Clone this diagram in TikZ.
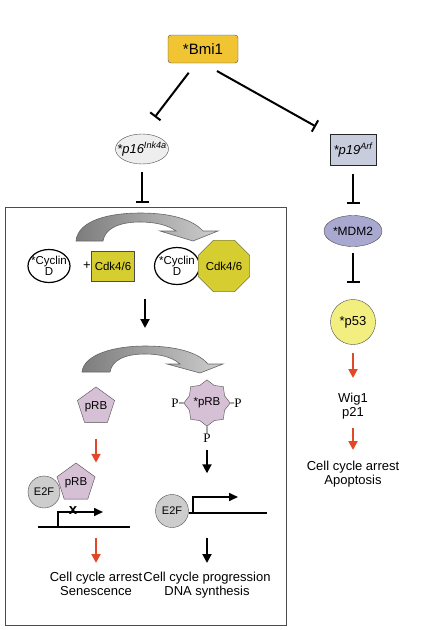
\documentclass[tikz,border=0pt]{standalone}
\usepackage{fontspec}
\setmainfont{Liberation Sans}
\newfontfamily\serifP{Liberation Serif}
\usepackage{tikz}
\usetikzlibrary{arrows.meta,shapes.geometric,calc}
\definecolor{bmiyellow}{RGB}{240,196,50}
\definecolor{p16gray}{RGB}{238,238,238}
\definecolor{p19blue}{RGB}{200,205,222}
\definecolor{mdmblue}{RGB}{168,168,208}
\definecolor{p53yellow}{RGB}{242,238,128}
\definecolor{cdkyellow}{RGB}{214,206,48}
\definecolor{rblilac}{RGB}{214,192,214}
\definecolor{e2fgray}{RGB}{205,205,205}
\definecolor{arrowred}{RGB}{226,72,40}
\definecolor{bendleft}{RGB}{125,125,125}
\definecolor{bendright}{RGB}{205,205,205}

\begin{document}
\begin{tikzpicture}[x=1pt,y=-1pt,
  mol/.style={draw=black!70,inner sep=0pt},
  oval/.style={mol,ellipse,inner sep=-6pt},
  inhibit/.style={line width=2pt,-{Bar[width=13pt]}},
  blackarr/.style={line width=2pt,-{Triangle[width=9pt,length=9pt]}},
  redarr/.style={blackarr,arrowred},
  gene/.style={line width=1.6pt},
  outcome/.style={anchor=north,align=center,inner sep=0pt,font=\fontsize{13}{13.5}\selectfont},
  bigbend/.style={draw=black!60,line width=0.6pt,left color=bendleft,right color=bendright}]
\useasboundingbox (0,0) rectangle (425,630);

\node[mol,rectangle,rounded corners=3pt,fill=bmiyellow,minimum width=70pt,minimum height=28pt,font=\fontsize{15}{15}\selectfont] (bmi) at (203,49) {*Bmi1};
\node[oval,fill=p16gray,minimum width=50pt,minimum height=30pt,font=\fontsize{13}{13}\selectfont\itshape] (p16) at (142,149) {*p16\textsuperscript{Ink4a}};
\node[mol,draw=black!85,fill=p19blue,minimum width=46pt,minimum height=31pt,font=\fontsize{13}{13}\selectfont\itshape] (p19) at (353,150) {*p19\textsuperscript{Arf}};
\node[oval,fill=mdmblue,minimum width=58pt,minimum height=31pt,font=\fontsize{12}{12}\selectfont] (mdm2) at (353,231) {*MDM2};
\node[mol,circle,fill=p53yellow,minimum size=45pt,font=\fontsize{13}{13}\selectfont] (p53) at (353,322) {*p53};
\node[outcome] (wig) at (353,393) {Wig1\\p21};
\node[outcome] (apop) at (353,461) {Cell cycle arrest\\Apoptosis};

\node[draw=gray!60!black,line width=0.8pt,minimum width=281pt,minimum height=418pt] (cellbox) at (145.5,416) {};

\shadedraw[bigbend] (76,241) .. controls (78,220) and (110,213) .. (140,213) .. controls (170,213) and (192,219) .. (203,231) -- (218,231) -- (193,241) -- (160,231) -- (176,231) .. controls (168,225) and (155,222) .. (140,222) .. controls (120,222) and (105,228) .. (103,241) -- cycle;
\node[oval,fill=white,draw=black,line width=1.2pt,minimum width=42pt,minimum height=33pt,align=center,font=\fontsize{11.5}{11.5}\selectfont] (cycA) at (49,266) {*Cyclin\\D};
\node[font=\fontsize{13}{13}\selectfont] (plus) [right of = cycA, node distance = 38pt] {+};
\node[mol,fill=cdkyellow,minimum width=43pt,minimum height=30pt,font=\fontsize{11.5}{11.5}\selectfont] (cdkA) [right of = plus, node distance = 26pt] {Cdk4/6};
\node[oval,fill=white,draw=black,line width=1.2pt,minimum width=45pt,minimum height=37pt,align=center,font=\fontsize{11.5}{11.5}\selectfont] (cycB) at (177,266) {*Cyclin\\D};
\node[mol,regular polygon,regular polygon sides=8,fill=cdkyellow,minimum size=47pt,font=\fontsize{11.5}{11.5}\selectfont] (cdkB) [right of = cycB, node distance = 47pt] {Cdk4/6};
\coordinate (rbsplit) at (145,328);

\shadedraw[bigbend] (82,372) .. controls (84,354) and (115,346) .. (145,346) .. controls (175,346) and (198,352) .. (208,364) -- (223,364) -- (200,373) -- (167,364) -- (180,364) .. controls (172,357) and (160,354) .. (145,354) .. controls (125,354) and (112,360) .. (110,372) -- cycle;
\node[mol,regular polygon,regular polygon sides=5,fill=rblilac,minimum size=39pt,font=\fontsize{11.5}{11.5}\selectfont] (rb1) at (96,406.5) {pRB};
\node[mol,star,star points=8,star point ratio=1.22,fill=rblilac,minimum size=43pt,font=\fontsize{11.5}{11.5}\selectfont] (rbP) at (207,403) {*pRB};
\node[inner sep=0pt,font=\serifP\fontsize{13}{13}\selectfont] (pL) [left of = rbP, node distance = 32pt] {P};
\node[inner sep=0pt,font=\serifP\fontsize{13}{13}\selectfont] (pR) [right of = rbP, node distance = 31pt] {P};
\node[inner sep=0pt,font=\serifP\fontsize{13}{13}\selectfont] (pB) [below of = rbP, node distance = 35pt] {P};
\draw[line width=0.8pt] (pL.east) -- (rbP.west) (pR.west) -- (rbP.east) (pB.north) -- (rbP.south);

\node[mol,circle,fill=e2fgray,minimum size=32pt,font=\fontsize{11}{11}\selectfont] (e2f1) at (44,492) {E2F};
\node[mol,regular polygon,regular polygon sides=5,fill=rblilac,minimum size=40pt,font=\fontsize{11.5}{11.5}\selectfont] (rb2) at (76,483) {pRB};
\coordinate (tss1) at (58,527);
\draw[gene] (38,527) -- (130,527);
\draw[gene,-{Triangle[width=8pt,length=9pt]}] (tss1) -- (58,512) -- (103,512);
\node[font=\fontsize{15}{15}\selectfont\bfseries] (block) at (73,511) {x};
\coordinate (prom1) at (96,527);

\node[mol,circle,fill=e2fgray,minimum size=33pt,font=\fontsize{11}{11}\selectfont] (e2f2) at (172,511) {E2F};
\coordinate (tss2) at (193,513);
\draw[gene] (e2f2.east |- tss2) -- (267,513);
\draw[gene,-{Triangle[width=8pt,length=9pt]}] (tss2) -- (193,497) -- (238,497);
\coordinate (prom2) at (207,513);

\node[outcome] (arrest) at (96,572) {Cell cycle arrest\\Senescence};
\node[outcome] (progress) at (207,572) {Cell cycle progression\\DNA synthesis};

\path[inhibit] ([xshift=-7pt]bmi.south) edge [shorten <=12pt, shorten >=21pt] (p16.north)
  (bmi.south) edge [shorten <=16pt, shorten >=16pt] (p19.north west)
  (p16.south) edge [shorten <=8pt, shorten >=4pt] (p16.south |- cellbox.north)
  (p19.south) edge [shorten <=8.5pt, shorten >=11.5pt] (mdm2.north)
  (mdm2.south) edge [shorten <=6.5pt, shorten >=16.5pt] (p53.north);
\path[blackarr] ($(cdkA.south)!0.5!(cycB.south)$) edge [shorten <=16pt] (rbsplit)
  (pB.south) edge [shorten <=8pt, shorten >=21pt] (pB.south |- e2f2.north)
  (prom2) edge [shorten <=25pt, shorten >=9pt] (progress.north);
\path[redarr] (rb1.south) edge [shorten <=16pt] (rb1.south |- rb2.north)
  (prom1) edge [shorten <=11pt, shorten >=9pt] (arrest.north)
  (p53.south) edge [shorten <=8.5pt, shorten >=15pt] (wig.north)
  (wig.south) edge [shorten <=9pt, shorten >=11pt] (apop.north);
\end{tikzpicture}
\end{document}
